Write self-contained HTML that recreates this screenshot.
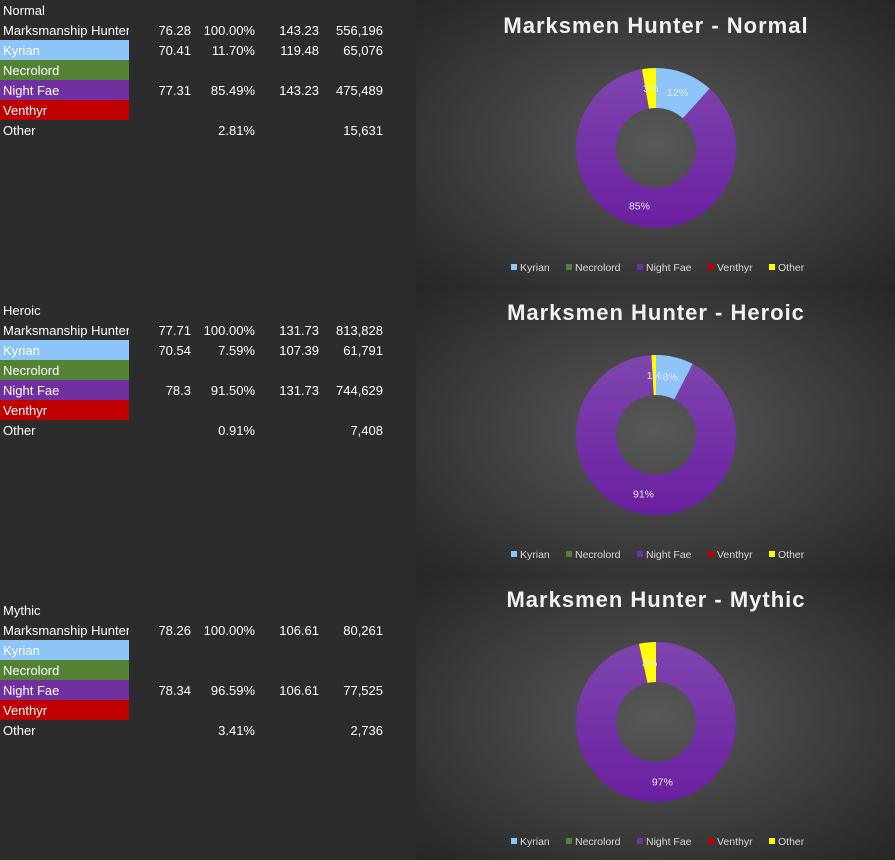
<!DOCTYPE html>
<html><head><meta charset="utf-8"><style>
body{margin:0;width:895px;height:860px;background:#2b2b2b;overflow:hidden;font-family:"Liberation Sans",sans-serif;}
#sheet{position:absolute;left:0;top:0;width:415px;height:860px;background:#2c2c2c;}
.r{position:absolute;left:0;width:415px;height:20px;font-size:13px;color:#fff;line-height:21px;}
.r span{position:absolute;white-space:nowrap;}
.n{left:3px;width:126px;overflow:hidden;}
.c1{right:224px}.c2{right:160px}.c3{right:96px}.c4{right:32px}
#charts{position:absolute;left:416px;top:0;width:479px;height:860px;}
</style></head><body>
<div id="sheet"></div>
<svg id="charts" width="479" height="860" xmlns="http://www.w3.org/2000/svg"></svg>
<script>
const sheet=document.getElementById('sheet');
const blocks=[
 {t:'Normal',y:0,rows:[['76.28','100.00%','143.23','556,196'],['70.41','11.70%','119.48','65,076'],['','','',''],['77.31','85.49%','143.23','475,489'],['','','',''],['','2.81%','','15,631']]},
 {t:'Heroic',y:300,rows:[['77.71','100.00%','131.73','813,828'],['70.54','7.59%','107.39','61,791'],['','','',''],['78.3','91.50%','131.73','744,629'],['','','',''],['','0.91%','','7,408']]},
 {t:'Mythic',y:600,rows:[['78.26','100.00%','106.61','80,261'],['','','',''],['','','',''],['78.34','96.59%','106.61','77,525'],['','','',''],['','3.41%','','2,736']]}];
const names=['Marksmanship Hunter','Kyrian','Necrolord','Night Fae','Venthyr','Other'];
const bg=['','#8ec5f8','#548235','#7030a0','#c00000',''];
let h='';
blocks.forEach(b=>{
 h+=`<div class="r" style="top:${b.y}px"><span class="n">${b.t}</span></div>`;
 b.rows.forEach((r,i)=>{
  const y=b.y+20+i*20;
  if(bg[i]) h+=`<div style="position:absolute;left:0;top:${y}px;width:129px;height:20px;background:${bg[i]}"></div>`;
  h+=`<div class="r" style="top:${y}px"><span class="n">${names[i]}</span><span class="c1">${r[0]}</span><span class="c2">${r[1]}</span><span class="c3">${r[2]}</span><span class="c4">${r[3]}</span></div>`;
 });
});
sheet.innerHTML=h;
const svg=document.getElementById('charts');
const charts=[
 {t:'Marksmen Hunter - Normal',y0:0,h:288,v:[11.70,85.49,2.81],l:['12%','85%','3%']},
 {t:'Marksmen Hunter - Heroic',y0:287,h:288,v:[7.59,91.50,0.91],l:['8%','91%','1%']},
 {t:'Marksmen Hunter - Mythic',y0:574,h:286,v:[0,96.59,3.41],l:['','97%','3%']}];
const cols=['#8ec5f8','#7030a0','#ffff00'];
let s=`<defs><radialGradient id="g" cx="50%" cy="50%" r="70%"><stop offset="0" stop-color="#585858"/><stop offset="1" stop-color="#262626"/></radialGradient>
<linearGradient id="pg" x1="0" y1="0" x2="0" y2="1"><stop offset="0" stop-color="#7e46ae"/><stop offset="1" stop-color="#6a1fa0"/></linearGradient></defs>`;
charts.forEach(c=>{
 s+=`<rect x="0" y="${c.y0}" width="479" height="${c.h}" fill="url(#g)"/>`;
});
charts.forEach(c=>{
 const cx=240,cy=c.y0+148,R=80,r=40;
 s+=`<text x="240" y="${c.y0+33}" text-anchor="middle" font-size="22" font-weight="bold" fill="#f2f2f2" letter-spacing="1">${c.t}</text>`;
 let a=0;
 c.v.forEach((v,i)=>{
  if(v<=0)return;
  const a1=a,a2=a+v/100*2*Math.PI;a=a2;
  const p=(rad,ang)=>[cx+rad*Math.sin(ang),cy-rad*Math.cos(ang)];
  const L=(a2-a1)>Math.PI?1:0;
  const [x1,y1]=p(R,a1),[x2,y2]=p(R,a2),[x3,y3]=p(r,a2),[x4,y4]=p(r,a1);
  s+=`<path d="M${x1},${y1}A${R},${R} 0 ${L} 1 ${x2},${y2}L${x3},${y3}A${r},${r} 0 ${L} 0 ${x4},${y4}Z" fill="${i==1?'url(#pg)':cols[i]}"/>`;
  const m=(a1+a2)/2,[lx,ly]=p(60,m);
  s+=`<text x="${lx}" y="${ly+4}" text-anchor="middle" font-size="10.5" fill="#e6e6e6">${c.l[i]}</text>`;
 });
 const ly=c.y0+267;
 const leg=[['Kyrian','#8ec5f8',95],['Necrolord','#548235',150],['Night Fae','#7030a0',221],['Venthyr','#c00000',292],['Other','#ffff00',353]];
 leg.forEach(l=>{s+=`<rect x="${l[2]}" y="${ly-3}" width="6" height="6" fill="${l[1]}"/><text x="${l[2]+9}" y="${ly+4}" font-size="10.5" fill="#d9d9d9">${l[0]}</text>`;});
});
svg.innerHTML=s;
</script>
</body></html>
